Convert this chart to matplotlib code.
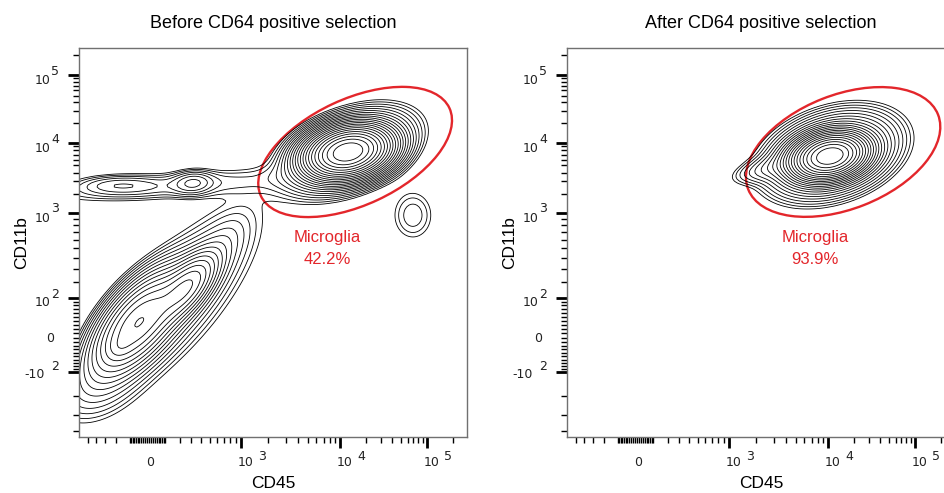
import numpy as np
import matplotlib.pyplot as plt
from matplotlib.patches import Ellipse

# scale anchors: value -> channel
x_tick_val = [-1000, 0, 1e3, 1e4, 1e5, 1e6]
x_tick_ch = [-20, 68, 162, 261, 348, 435]
y_tick_val = [-1000, -100, 0, 100, 1e3, 1e4, 1e5, 1e6]
y_tick_ch = [-60, 65, 99, 139, 224, 294, 362, 430]

# populations before selection: centre (CD45, CD11b), spread in channels, tilt (deg),
# relative peak density
before_cd45 = [1.24e4, 1.24e4, 123, 315, -180, -50, 260, 180, 700, -414, -171, 6.9e4]
before_cd11b = [7.6e3, 7.6e3, 2590, 2860, 2680, 34, 166, 95, 560, -170, -24, 960]
before_sd1 = [19, 32, 80, 12, 25, 32, 22, 64, 22, 28, 8, 14]
before_sd2 = [11, 17, 9, 7, 6, 15, 10, 23, 11, 18, 6, 17]
before_tilt = [12, 22, 4, 5, 0, 50, 50, 50, 55, 30, 45, 0]
before_peak = [1.0, 0.045, 0.0035, 0.0064, 0.004, 0.09, 0.06, 0.008, 0.002, 0.0035, 0.01, 0.0032]

# populations after CD64 positive selection
after_cd45 = [1.05e4, 1.12e4, 2760]
after_cd11b = [6.7e3, 7.0e3, 4620]
after_sd1 = [17, 32, 22]
after_sd2 = [10, 19, 7]
after_tilt = [12, 18, 15]
after_peak = [1.0, 0.046, 0.0055]

# microglia gate: centre (CD45, CD11b), half axes in channels, tilt
gate_cd45 = [1.5e4, 1.5e4]
gate_cd11b = [7.6e3, 7.6e3]
gate_a = [104, 102]
gate_b = [53, 57]
gate_tilt = [25, 21.5]
gate_pct = ['42.2%', '93.9%']

titles = ['Before CD64 positive selection', 'After CD64 positive selection']


def u(v):
    v = np.asarray(v, float)
    return np.sign(v) * np.log10(1 + np.abs(v) / 300)


def xch(v):
    return np.interp(u(v), u(x_tick_val), x_tick_ch)


def ych(v):
    return np.interp(u(v), u(y_tick_val), y_tick_ch)


gx, gy = np.meshgrid(np.arange(0, 390, 2.0), np.arange(0, 391, 2.0))


def density(cd45, cd11b, sd1, sd2, tilt, peak):
    z = np.zeros_like(gx)
    for cx, cy, s1, s2, t, a0 in zip(cd45, cd11b, sd1, sd2, tilt, peak):
        th = np.radians(t)
        dx = gx - xch(cx)
        dy = gy - ych(cy)
        a = dx*np.cos(th) + dy*np.sin(th)
        b = -dx*np.sin(th) + dy*np.cos(th)
        z += a0 * np.exp(-0.5*(a**2/s1**2 + b**2/s2**2))
    return z


def log_levels(z, step=0.3, n=22):
    return z.max() * np.exp(-step*np.arange(n, 0, -1))


def dress(ax):
    ax.set_xlim(0, 388)
    ax.set_ylim(0, 389)
    for s in ax.spines.values():
        s.set_color('#707070')
        s.set_linewidth(1)

    lin = [k*10 for k in range(1, 10)] + [-k*10 for k in range(1, 10)] + [0]
    dec = [k*d for d in [100, 1000, 10000, 100000] for k in range(2, 10)]
    neg = [-k*100 for k in range(2, 6)]

    xmaj = xch([1e3, 1e4, 1e5])
    xmin = [p for p in xch(lin + dec + neg + [100, -100]) if 3 < p < 388]
    ymaj = ych([-100, 100, 1e3, 1e4, 1e5])
    ymin = [p for p in ych(lin + dec + neg) if 3 < p < 389]
    ax.set_xticks(xmaj)
    ax.set_xticks(xmin, minor=True)
    ax.set_yticks(ymaj)
    ax.set_yticks(ymin, minor=True)
    ax.tick_params(which='major', direction='out', length=8, width=2, color='black',
                   labelbottom=False, labelleft=False)
    ax.tick_params(which='minor', direction='out', length=4, width=1, color='black')

    xt = ax.get_xaxis_transform()
    yt = ax.get_yaxis_transform()
    tk = dict(textcoords='offset pixels', ha='center', va='center',
              fontsize=9, family='DejaVu Sans', color='#222222')
    for e in [3, 4, 5]:
        x = xch(10.0**e)
        ax.annotate('10', (x, 0), xycoords=xt, xytext=(5, -26), **tk)
        ax.annotate(str(e), (x, 0), xycoords=xt, xytext=(21, -20), **tk)
    ax.annotate('0', (xch(0), 0), xycoords=xt, xytext=(3, -26), **tk)
    for e in [2, 3, 4, 5]:
        y = ych(10.0**e)
        ax.annotate('10', (0, y), xycoords=yt, xytext=(-36, -5), **tk)
        ax.annotate(str(e), (0, y), xycoords=yt, xytext=(-24, 4), **tk)
    ax.annotate('0', (0, ych(0)), xycoords=yt, xytext=(-29, 0), **tk)
    ax.annotate('-10', (0, ych(-100)), xycoords=yt, xytext=(-44, -3), **tk)
    ax.annotate('2', (0, ych(-100)), xycoords=yt, xytext=(-24, 5), **tk)

    ax.text(0.5, -47/389, 'CD45', transform=ax.transAxes, ha='center', va='center',
            fontsize=12.5, family='Liberation Sans')
    ax.text(-57/388, 0.5, 'CD11b', transform=ax.transAxes, ha='center', va='center',
            rotation=90, fontsize=12.5, family='Liberation Sans')


fig = plt.figure(figsize=(9.45, 4.93), dpi=100)
ax1 = fig.add_axes([79/945, 56/493, 388/945, 389/493])
ax2 = fig.add_axes([567/945, 56/493, 388/945, 389/493])

panels = [
    (ax1, density(before_cd45, before_cd11b, before_sd1, before_sd2, before_tilt, before_peak)),
    (ax2, density(after_cd45, after_cd11b, after_sd1, after_sd2, after_tilt, after_peak)),
]

red = '#e3262b'
for i, (ax, z) in enumerate(panels):
    ax.contour(gx, gy, z, levels=log_levels(z), colors='black', linewidths=0.6)
    ax.add_patch(Ellipse((xch(gate_cd45[i]), ych(gate_cd11b[i])), 2*gate_a[i], 2*gate_b[i],
                         angle=gate_tilt[i], fill=False, ec=red, lw=1.7))
    lx = xch(gate_cd45[i]) - 28
    ax.text(lx, 200, 'Microglia', color=red, ha='center', va='center',
            fontsize=12, family='Liberation Sans')
    ax.text(lx, 178, gate_pct[i], color=red, ha='center', va='center',
            fontsize=12, family='Liberation Sans')
    ax.set_title(titles[i], fontsize=13, family='Liberation Sans', pad=14.5)
    dress(ax)

fig.savefig('out.png', dpi=100)
